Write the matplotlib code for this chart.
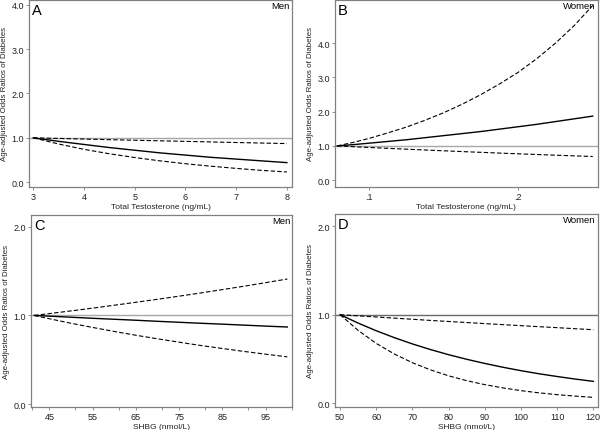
import numpy as np
from matplotlib import pyplot as plt

plt.rcParams['font.family'] = ['Liberation Sans', 'DejaVu Sans']

# Panel A: men, total testosterone
a_x = [3, 3.5, 4, 4.5, 5, 5.5, 6, 6.5, 7, 7.5, 8]
a_or = [1.0, 0.92, 0.85, 0.78, 0.72, 0.66, 0.61, 0.56, 0.52, 0.48, 0.44]
a_lo = [1.0, 0.86, 0.74, 0.64, 0.555, 0.48, 0.415, 0.36, 0.31, 0.265, 0.23]
a_hi = [1.0, 0.986, 0.972, 0.958, 0.945, 0.932, 0.92, 0.907, 0.894, 0.882, 0.87]

# Panel B: women, total testosterone
b_x = [0.0785, 0.09, 0.1, 0.1125, 0.125, 0.1375, 0.15, 0.1625, 0.175,
       0.1875, 0.2, 0.2125, 0.225, 0.2375, 0.25]
b_or = [1.0, 1.04, 1.08, 1.13, 1.18, 1.24, 1.30, 1.36, 1.42,
        1.49, 1.56, 1.63, 1.71, 1.79, 1.87]
b_lo = [1.0, 0.976, 0.954, 0.929, 0.904, 0.880, 0.857, 0.834, 0.812,
        0.790, 0.769, 0.749, 0.729, 0.709, 0.69]
b_hi = [1.0, 1.11, 1.22, 1.38, 1.55, 1.75, 1.97, 2.22, 2.50,
        2.81, 3.15, 3.55, 4.0, 4.51, 5.1]

# Panel C: men, SHBG
c_x = [41.5, 45, 50, 55, 60, 65, 70, 75, 80, 85, 90, 95, 100]
c_or = [1.0, 0.992, 0.980, 0.968, 0.957, 0.946, 0.934, 0.923, 0.912, 0.902, 0.891, 0.880, 0.87]
c_lo = [1.0, 0.963, 0.912, 0.865, 0.820, 0.777, 0.737, 0.699, 0.662, 0.628, 0.595, 0.564, 0.534]
c_hi = [1.0, 1.021, 1.051, 1.082, 1.115, 1.148, 1.182, 1.217, 1.253, 1.291, 1.329, 1.369, 1.41]

# Panel D: women, SHBG
d_x = [50, 55, 60, 65, 70, 75, 80, 85, 90, 95, 100, 105, 110, 115, 120]
d_or = [1.0, 0.905, 0.818, 0.740, 0.669, 0.605, 0.547, 0.495, 0.448,
        0.405, 0.366, 0.331, 0.300, 0.271, 0.245]
d_lo = [1.0, 0.822, 0.675, 0.555, 0.456, 0.375, 0.308, 0.253, 0.208,
        0.171, 0.140, 0.115, 0.0946, 0.078, 0.064]
d_hi = [1.0, 0.987, 0.974, 0.961, 0.948, 0.935, 0.923, 0.911, 0.899,
        0.887, 0.876, 0.864, 0.853, 0.841, 0.83]

frame = '#808080'
fig = plt.figure(figsize=(6, 4.31), dpi=100)


def panel(rect, x, y_or, y_lo, y_hi, letter, sex, xlabel, xlim, ylim,
          xticks, xticklabels, yticks, refcol='#a8a8a8', minor=None):
    ax = fig.add_axes(rect)
    ax.axhline(1.0, color=refcol, lw=1.0, zorder=1)
    ax.plot(x, y_hi, color='black', lw=0.8, ls=(0, (4, 2)), zorder=2)
    ax.plot(x, y_lo, color='black', lw=0.8, ls=(0, (4, 2)), zorder=2)
    ax.plot(x, y_or, color='black', lw=1.0, zorder=3)
    ax.set_xlim(xlim)
    ax.set_ylim(ylim)
    ax.set_xticks(xticks)
    ax.set_xticklabels(xticklabels)
    ax.set_yticks(yticks)
    ax.set_yticklabels(['%.1f' % v for v in yticks])
    if minor is not None:
        ax.set_xticks(minor, minor=True)
        ax.tick_params(axis='x', which='minor', direction='out', length=2,
                       width=0.6, color=frame)
    for s in ax.spines.values():
        s.set_color(frame)
        s.set_linewidth(0.9)
    ax.tick_params(direction='out', length=2.5, width=0.6, color=frame,
                   labelsize=6.5, pad=1.2, labelcolor='#222222')
    ax.set_xlabel(xlabel, fontsize=6.0, labelpad=1.0, color='#222222')
    ax.set_ylabel('Age-adjusted Odds Ratios of Diabetes', fontsize=5.7,
                  labelpad=2.5, color='#222222')
    ax.text(0.012, 0.985, letter, transform=ax.transAxes, fontsize=10.5,
            ha='left', va='top')
    ax.text(0.993, 0.993, sex, transform=ax.transAxes, fontsize=6.8,
            ha='right', va='top')
    return ax


panel([0.0483, 0.5638, 0.4383, 0.4339], a_x, a_or, a_lo, a_hi, 'A', 'Men',
      'Total Testosterone (ng/mL)', (2.915, 8.1), (-0.11, 4.11),
      [3, 4, 5, 6, 7, 8], ['3', '4', '5', '6', '7', '8'],
      [0.0, 1.0, 2.0, 3.0, 4.0])

panel([0.5583, 0.5638, 0.4378, 0.4339], b_x, b_or, b_lo, b_hi, 'B', 'Women',
      'Total Testosterone (ng/mL)', (0.077, 0.2533), (-0.2, 5.26),
      [0.1, 0.2], ['.1', '.2'],
      [0.0, 1.0, 2.0, 3.0, 4.0])

panel([0.0517, 0.0534, 0.435, 0.4454], c_x, c_or, c_lo, c_hi, 'C', 'Men',
      'SHBG (nmol/L)', (40.77, 101.08), (-0.03, 2.13),
      [45, 55, 65, 75, 85, 95], ['45', '55', '65', '75', '85', '95'],
      [0.0, 1.0, 2.0], minor=[41, 51, 61, 71, 81, 91, 101])

panel([0.5583, 0.0534, 0.4378, 0.4478], d_x, d_or, d_lo, d_hi, 'D', 'Women',
      'SHBG (nmol/L)', (48.6, 121.2), (-0.045, 2.14),
      [50, 60, 70, 80, 90, 100, 110, 120],
      ['50', '60', '70', '80', '90', '100', '110', '120'],
      [0.0, 1.0, 2.0], refcol='#6a6a6a')

fig.savefig('out.png', dpi=100)
